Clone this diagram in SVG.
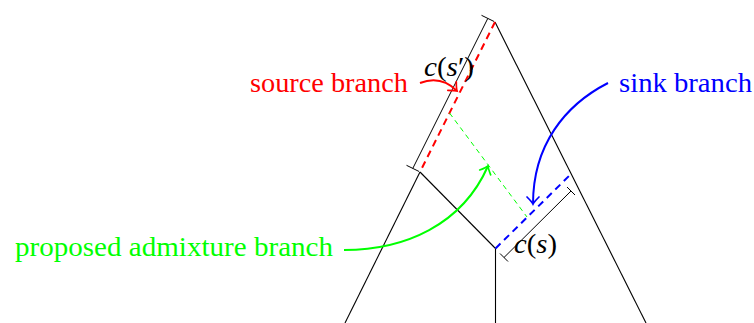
<svg xmlns="http://www.w3.org/2000/svg" width="754" height="323" viewBox="0 0 754 323">
<style>
.tree{stroke:#000;stroke-width:1.1;fill:none}
.dim{stroke:#000;stroke-width:1;fill:none}
.lbl{font-family:"Liberation Serif","Times New Roman",serif;font-size:27px}
.math{font-family:"Liberation Serif","Times New Roman",serif;font-size:28px;fill:#000}
.it{font-style:italic}
</style>
<defs>
<marker id="arR" markerUnits="userSpaceOnUse" markerWidth="16" markerHeight="16" viewBox="-9 -8 11 16" refX="0" refY="0" orient="auto">
<path d="M -7 -6 Q -2 -1 0 0 Q -2 1 -7 6" fill="none" stroke="#ff0000" stroke-width="1.7" stroke-linecap="round"/>
</marker>
<marker id="arB" markerUnits="userSpaceOnUse" markerWidth="16" markerHeight="16" viewBox="-9 -8 11 16" refX="0" refY="0" orient="auto">
<path d="M -7 -6 Q -2 -1 0 0 Q -2 1 -7 6" fill="none" stroke="#0000ff" stroke-width="1.7" stroke-linecap="round"/>
</marker>
<marker id="arG" markerUnits="userSpaceOnUse" markerWidth="16" markerHeight="16" viewBox="-9 -8 11 16" refX="0" refY="0" orient="auto">
<path d="M -7 -6 Q -2 -1 0 0 Q -2 1 -7 6" fill="none" stroke="#00ff00" stroke-width="1.7" stroke-linecap="round"/>
</marker>
</defs>
<g id="connectors">
<line class="tree" x1="495" y1="22" x2="646" y2="323"/>
<line class="tree" x1="420" y1="172" x2="345" y2="323"/>
<line class="tree" x1="420" y1="172" x2="495.5" y2="248.5"/>
<line class="tree" x1="495.5" y1="248.5" x2="495.5" y2="323"/>
<line x1="495" y1="22" x2="420" y2="172" stroke="#ff0000" stroke-width="2" stroke-dasharray="7,5"/>
<line x1="495.5" y1="248.5" x2="570" y2="175" stroke="#0000ff" stroke-width="2" stroke-dasharray="7,5"/>
<line x1="449.5" y1="113" x2="527" y2="217" stroke="#00ff00" stroke-width="1" stroke-dasharray="5,4"/>
<line class="dim" x1="487.8" y1="18.4" x2="412.8" y2="168.4"/>
<line class="dim" x1="481.5" y1="15.3" x2="494.1" y2="21.5"/>
<line class="dim" x1="406.5" y1="165.3" x2="419.1" y2="171.5"/>
<line class="dim" x1="504" y1="257.5" x2="571" y2="191"/>
<line class="dim" x1="500" y1="253.5" x2="508" y2="261.5"/>
<line class="dim" x1="567" y1="187" x2="575" y2="195"/>
<path d="M 420 83 Q 441 75 457 91" fill="none" stroke="#ff0000" stroke-width="2" marker-end="url(#arR)"/>
<path d="M 608 83 C 565 105 533 145 533 204" fill="none" stroke="#0000ff" stroke-width="2" marker-end="url(#arB)"/>
<path d="M 344 250 C 405 250 462 225 488 166" fill="none" stroke="#00ff00" stroke-width="2" marker-end="url(#arG)"/>
</g>
<g id="label-cs-prime">
<text class="math" x="424" y="76" textLength="50" lengthAdjust="spacingAndGlyphs"><tspan class="it">c</tspan>(<tspan class="it">s</tspan>′)</text>
</g>
<g id="label-cs">
<text class="math" x="514" y="253" textLength="43" lengthAdjust="spacingAndGlyphs"><tspan class="it">c</tspan>(<tspan class="it">s</tspan>)</text>
</g>
<g id="source-branch">
<text class="lbl" x="250" y="92" fill="#ff0000" textLength="158" lengthAdjust="spacingAndGlyphs">source branch</text>
</g>
<g id="sink-branch">
<text class="lbl" x="619" y="92" fill="#0000ff" textLength="133" lengthAdjust="spacingAndGlyphs">sink branch</text>
</g>
<g id="proposed-admixture-branch">
<text class="lbl" x="15" y="256" fill="#00ff00" textLength="318" lengthAdjust="spacingAndGlyphs">proposed admixture branch</text>
</g>
</svg>
